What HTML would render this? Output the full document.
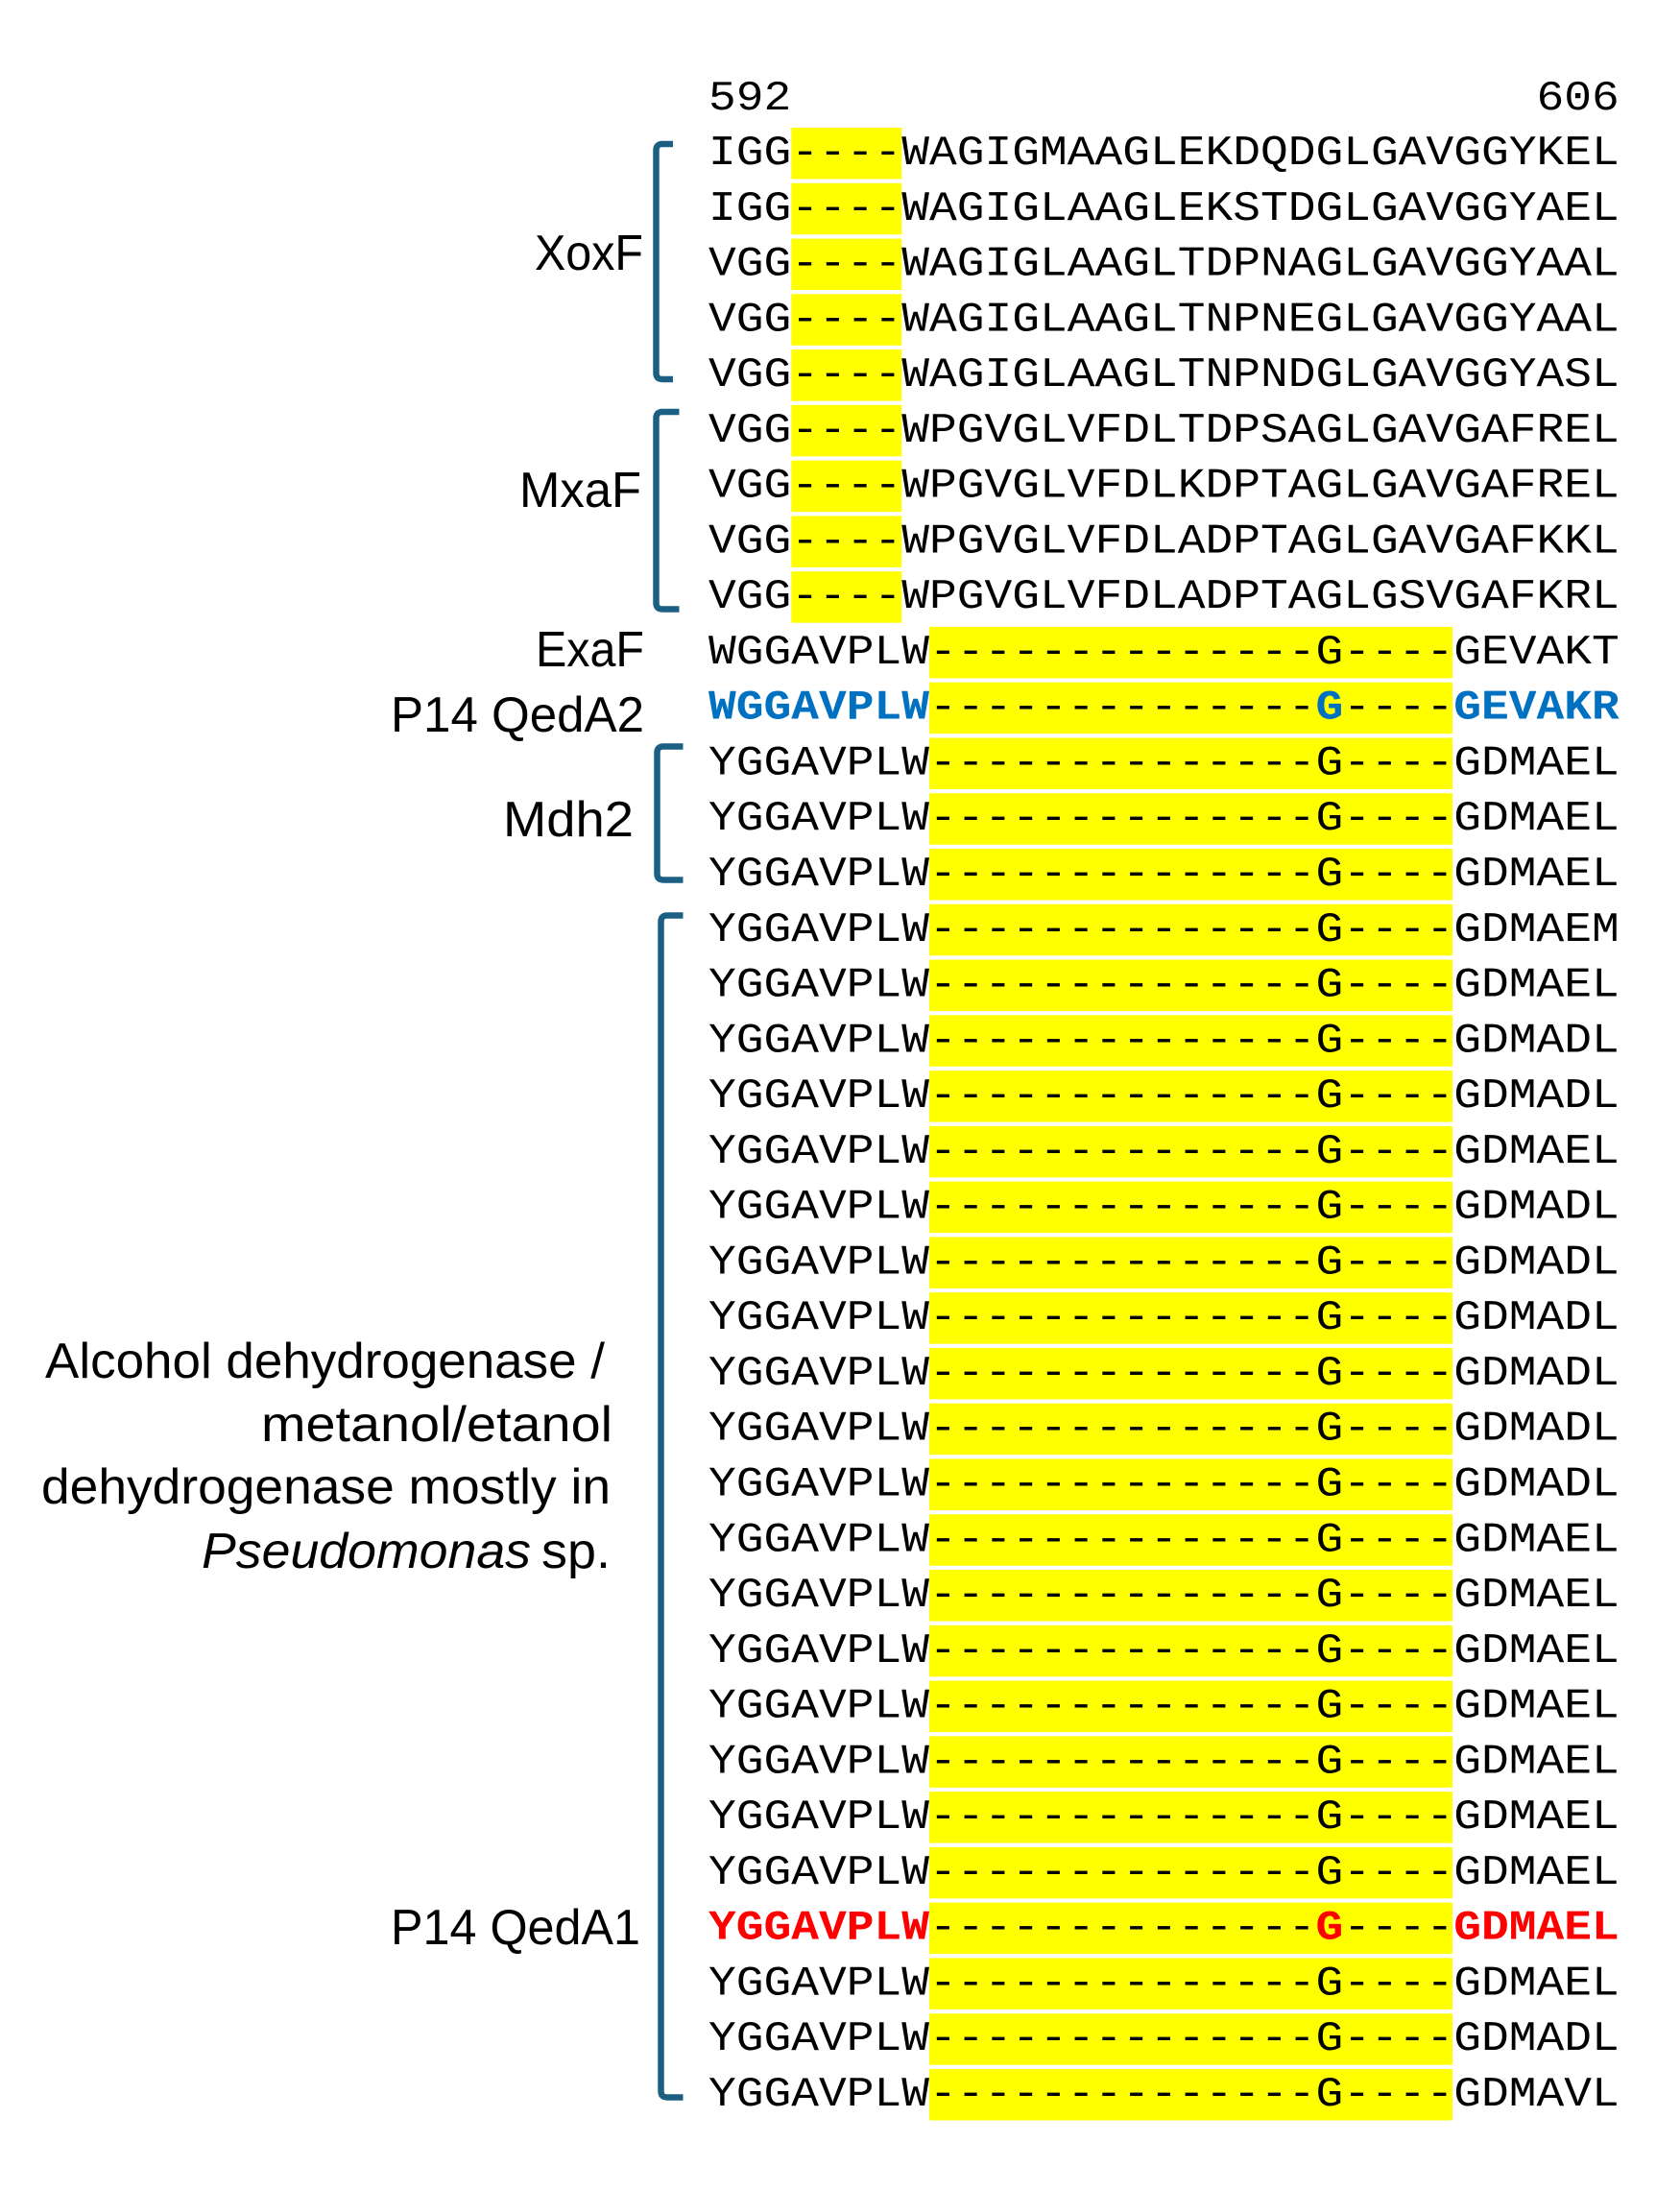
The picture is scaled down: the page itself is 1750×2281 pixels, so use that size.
<!DOCTYPE html>
<html>
<head>
<meta charset="utf-8">
<style>
  html,body{margin:0;padding:0;background:#fff;}
  svg{display:block;}
  .m{font-family:"Liberation Mono","DejaVu Sans Mono",monospace;font-size:44px;fill:#000;}
  .b{font-weight:bold;}
  .blue{fill:#0070C0;}
  .red{fill:#FF0000;}
  .l{font-family:"Liberation Sans","DejaVu Sans",sans-serif;font-size:52px;fill:#000;}
  .br{fill:none;stroke:#1b5f82;stroke-width:6.5;stroke-linecap:butt;stroke-linejoin:round;}
</style>
</head>
<body>
<svg width="1750" height="2281" viewBox="0 0 1750 2281" xmlns="http://www.w3.org/2000/svg">
<rect x="0" y="0" width="1750" height="2281" fill="#fff"/>

<!-- yellow highlight blocks -->
<g fill="#FFFF00">
<rect x="824.25" y="133.0" width="115" height="53.5"/>
<rect x="824.25" y="190.77" width="115" height="53.5"/>
<rect x="824.25" y="248.54" width="115" height="53.5"/>
<rect x="824.25" y="306.31" width="115" height="53.5"/>
<rect x="824.25" y="364.08" width="115" height="53.5"/>
<rect x="824.25" y="421.85" width="115" height="53.5"/>
<rect x="824.25" y="479.62" width="115" height="53.5"/>
<rect x="824.25" y="537.39" width="115" height="53.5"/>
<rect x="824.25" y="595.16" width="115" height="53.5"/>
<rect x="968" y="652.93" width="545" height="53.5"/>
<rect x="968" y="710.7" width="545" height="53.5"/>
<rect x="968" y="768.47" width="545" height="53.5"/>
<rect x="968" y="826.24" width="545" height="53.5"/>
<rect x="968" y="884.01" width="545" height="53.5"/>
<rect x="968" y="941.78" width="545" height="53.5"/>
<rect x="968" y="999.55" width="545" height="53.5"/>
<rect x="968" y="1057.32" width="545" height="53.5"/>
<rect x="968" y="1115.09" width="545" height="53.5"/>
<rect x="968" y="1172.86" width="545" height="53.5"/>
<rect x="968" y="1230.63" width="545" height="53.5"/>
<rect x="968" y="1288.4" width="545" height="53.5"/>
<rect x="968" y="1346.17" width="545" height="53.5"/>
<rect x="968" y="1403.94" width="545" height="53.5"/>
<rect x="968" y="1461.71" width="545" height="53.5"/>
<rect x="968" y="1519.48" width="545" height="53.5"/>
<rect x="968" y="1577.25" width="545" height="53.5"/>
<rect x="968" y="1635.02" width="545" height="53.5"/>
<rect x="968" y="1692.79" width="545" height="53.5"/>
<rect x="968" y="1750.56" width="545" height="53.5"/>
<rect x="968" y="1808.33" width="545" height="53.5"/>
<rect x="968" y="1866.1" width="545" height="53.5"/>
<rect x="968" y="1923.87" width="545" height="53.5"/>
<rect x="968" y="1981.64" width="545" height="53.5"/>
<rect x="968" y="2039.41" width="545" height="53.5"/>
<rect x="968" y="2097.18" width="545" height="53.5"/>
<rect x="968" y="2154.95" width="545" height="53.5"/>
</g>

<!-- position numbers -->
<text class="m" x="738" y="114" textLength="86.25" lengthAdjust="spacingAndGlyphs">592</text>
<text class="m" x="1600.5" y="114" textLength="86.25" lengthAdjust="spacingAndGlyphs">606</text>

<!-- sequences -->
<g class="m">
<text x="738" y="171.0" textLength="948.75" lengthAdjust="spacingAndGlyphs">IGG----WAGIGMAAGLEKDQDGLGAVGGYKEL</text>
<text x="738" y="228.8" textLength="948.75" lengthAdjust="spacingAndGlyphs">IGG----WAGIGLAAGLEKSTDGLGAVGGYAEL</text>
<text x="738" y="286.5" textLength="948.75" lengthAdjust="spacingAndGlyphs">VGG----WAGIGLAAGLTDPNAGLGAVGGYAAL</text>
<text x="738" y="344.3" textLength="948.75" lengthAdjust="spacingAndGlyphs">VGG----WAGIGLAAGLTNPNEGLGAVGGYAAL</text>
<text x="738" y="402.1" textLength="948.75" lengthAdjust="spacingAndGlyphs">VGG----WAGIGLAAGLTNPNDGLGAVGGYASL</text>
<text x="738" y="459.9" textLength="948.75" lengthAdjust="spacingAndGlyphs">VGG----WPGVGLVFDLTDPSAGLGAVGAFREL</text>
<text x="738" y="517.6" textLength="948.75" lengthAdjust="spacingAndGlyphs">VGG----WPGVGLVFDLKDPTAGLGAVGAFREL</text>
<text x="738" y="575.4" textLength="948.75" lengthAdjust="spacingAndGlyphs">VGG----WPGVGLVFDLADPTAGLGAVGAFKKL</text>
<text x="738" y="633.2" textLength="948.75" lengthAdjust="spacingAndGlyphs">VGG----WPGVGLVFDLADPTAGLGSVGAFKRL</text>
<text x="738" y="690.9" textLength="948.75" lengthAdjust="spacingAndGlyphs">WGGAVPLW--------------G----GEVAKT</text>

<!-- P14 QedA2 (blue) -->
<text class="b blue" x="738" y="748.7" textLength="230" lengthAdjust="spacingAndGlyphs">WGGAVPLW</text>
<text x="968" y="748.7" textLength="402.5" lengthAdjust="spacingAndGlyphs">--------------</text>
<text class="b blue" x="1370.5" y="748.7" textLength="28.75" lengthAdjust="spacingAndGlyphs">G</text>
<text x="1399.25" y="748.7" textLength="115" lengthAdjust="spacingAndGlyphs">----</text>
<text class="b blue" x="1514.25" y="748.7" textLength="172.5" lengthAdjust="spacingAndGlyphs">GEVAKR</text>

<text x="738" y="806.5" textLength="948.75" lengthAdjust="spacingAndGlyphs">YGGAVPLW--------------G----GDMAEL</text>
<text x="738" y="864.2" textLength="948.75" lengthAdjust="spacingAndGlyphs">YGGAVPLW--------------G----GDMAEL</text>
<text x="738" y="922.0" textLength="948.75" lengthAdjust="spacingAndGlyphs">YGGAVPLW--------------G----GDMAEL</text>
<text x="738" y="979.8" textLength="948.75" lengthAdjust="spacingAndGlyphs">YGGAVPLW--------------G----GDMAEM</text>
<text x="738" y="1037.6" textLength="948.75" lengthAdjust="spacingAndGlyphs">YGGAVPLW--------------G----GDMAEL</text>
<text x="738" y="1095.3" textLength="948.75" lengthAdjust="spacingAndGlyphs">YGGAVPLW--------------G----GDMADL</text>
<text x="738" y="1153.1" textLength="948.75" lengthAdjust="spacingAndGlyphs">YGGAVPLW--------------G----GDMADL</text>
<text x="738" y="1210.9" textLength="948.75" lengthAdjust="spacingAndGlyphs">YGGAVPLW--------------G----GDMAEL</text>
<text x="738" y="1268.6" textLength="948.75" lengthAdjust="spacingAndGlyphs">YGGAVPLW--------------G----GDMADL</text>
<text x="738" y="1326.4" textLength="948.75" lengthAdjust="spacingAndGlyphs">YGGAVPLW--------------G----GDMADL</text>
<text x="738" y="1384.2" textLength="948.75" lengthAdjust="spacingAndGlyphs">YGGAVPLW--------------G----GDMADL</text>
<text x="738" y="1441.9" textLength="948.75" lengthAdjust="spacingAndGlyphs">YGGAVPLW--------------G----GDMADL</text>
<text x="738" y="1499.7" textLength="948.75" lengthAdjust="spacingAndGlyphs">YGGAVPLW--------------G----GDMADL</text>
<text x="738" y="1557.5" textLength="948.75" lengthAdjust="spacingAndGlyphs">YGGAVPLW--------------G----GDMADL</text>
<text x="738" y="1615.3" textLength="948.75" lengthAdjust="spacingAndGlyphs">YGGAVPLW--------------G----GDMAEL</text>
<text x="738" y="1673.0" textLength="948.75" lengthAdjust="spacingAndGlyphs">YGGAVPLW--------------G----GDMAEL</text>
<text x="738" y="1730.8" textLength="948.75" lengthAdjust="spacingAndGlyphs">YGGAVPLW--------------G----GDMAEL</text>
<text x="738" y="1788.6" textLength="948.75" lengthAdjust="spacingAndGlyphs">YGGAVPLW--------------G----GDMAEL</text>
<text x="738" y="1846.3" textLength="948.75" lengthAdjust="spacingAndGlyphs">YGGAVPLW--------------G----GDMAEL</text>
<text x="738" y="1904.1" textLength="948.75" lengthAdjust="spacingAndGlyphs">YGGAVPLW--------------G----GDMAEL</text>
<text x="738" y="1961.9" textLength="948.75" lengthAdjust="spacingAndGlyphs">YGGAVPLW--------------G----GDMAEL</text>

<!-- P14 QedA1 (red) -->
<text class="b red" x="738" y="2019.6" textLength="230" lengthAdjust="spacingAndGlyphs">YGGAVPLW</text>
<text x="968" y="2019.6" textLength="402.5" lengthAdjust="spacingAndGlyphs">--------------</text>
<text class="b red" x="1370.5" y="2019.6" textLength="28.75" lengthAdjust="spacingAndGlyphs">G</text>
<text x="1399.25" y="2019.6" textLength="115" lengthAdjust="spacingAndGlyphs">----</text>
<text class="b red" x="1514.25" y="2019.6" textLength="172.5" lengthAdjust="spacingAndGlyphs">GDMAEL</text>

<text x="738" y="2077.4" textLength="948.75" lengthAdjust="spacingAndGlyphs">YGGAVPLW--------------G----GDMAEL</text>
<text x="738" y="2135.2" textLength="948.75" lengthAdjust="spacingAndGlyphs">YGGAVPLW--------------G----GDMADL</text>
<text x="738" y="2193.0" textLength="948.75" lengthAdjust="spacingAndGlyphs">YGGAVPLW--------------G----GDMAVL</text>
</g>

<!-- brackets -->
<path class="br" d="M701,150 L690,150 Q683.5,150 683.5,156.5 L683.5,388.5 Q683.5,395 690,395 L701,395"/>
<path class="br" d="M707.5,429 L690,429 Q683.5,429 683.5,435.5 L683.5,628 Q683.5,634.5 690,634.5 L707.5,634.5"/>
<path class="br" d="M711.5,777.5 L691,777.5 Q684.5,777.5 684.5,784 L684.5,910 Q684.5,916.5 691,916.5 L711.5,916.5"/>
<path class="br" d="M711.5,953.5 L695,953.5 Q688.5,953.5 688.5,960 L688.5,2178 Q688.5,2184.5 695,2184.5 L711.5,2184.5"/>

<!-- labels -->
<g class="l">
<text x="557" y="281" textLength="113" lengthAdjust="spacingAndGlyphs">XoxF</text>
<text x="541" y="528" textLength="127" lengthAdjust="spacingAndGlyphs">MxaF</text>
<text x="558" y="694" textLength="113" lengthAdjust="spacingAndGlyphs">ExaF</text>
<text x="407" y="762" textLength="264" lengthAdjust="spacingAndGlyphs">P14 QedA2</text>
<text x="524" y="871" textLength="136" lengthAdjust="spacingAndGlyphs">Mdh2</text>
<text x="47" y="1435" textLength="583" lengthAdjust="spacingAndGlyphs">Alcohol dehydrogenase /</text>
<text x="272" y="1501" textLength="366" lengthAdjust="spacingAndGlyphs">metanol/etanol</text>
<text x="43" y="1566" textLength="593" lengthAdjust="spacingAndGlyphs">dehydrogenase mostly in</text>
<text x="210" y="1633" textLength="343" lengthAdjust="spacingAndGlyphs" font-style="italic">Pseudomonas</text>
<text x="564" y="1633" textLength="72" lengthAdjust="spacingAndGlyphs">sp.</text>
<text x="407" y="2025" textLength="260" lengthAdjust="spacingAndGlyphs">P14 QedA1</text>
</g>
</svg>
</body>
</html>
